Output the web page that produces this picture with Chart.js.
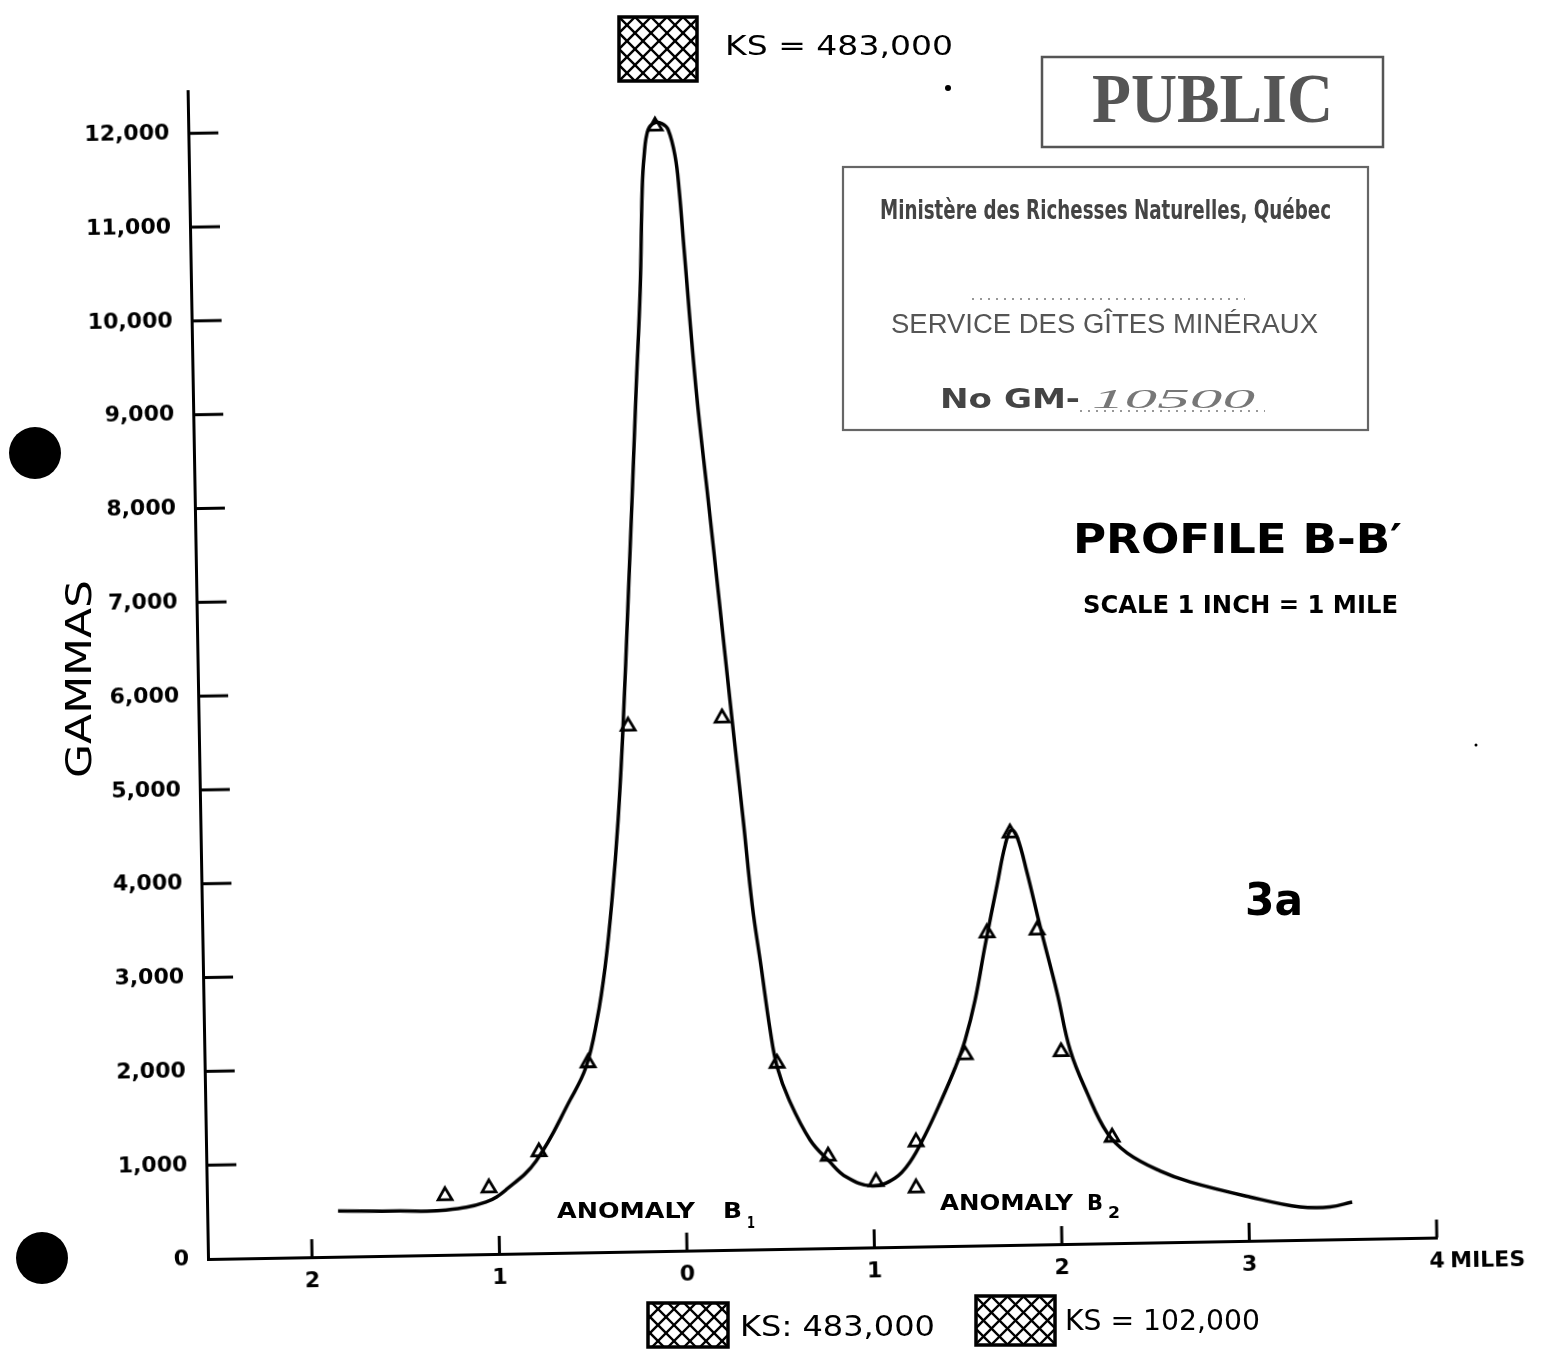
<!DOCTYPE html>
<html>
<head>
<meta charset="utf-8">
<title>Profile B-B'</title>
<script src="https://cdn.jsdelivr.net/npm/chart.js@4.4.1/dist/chart.umd.min.js"></script>
<style>
    html, body { margin: 0; padding: 0; background: #fff; }
    #wrap { position: relative; width: 1543px; height: 1367px; overflow: hidden; background: #fff; }
    /* the scanned sheet is drawn about one degree off square */
    #profileChart { position: absolute; left: 0; top: 0; transform: rotate(-1deg); transform-origin: 208px 1259px; }
    #overlay { position: absolute; left: 0; top: 0; pointer-events: none; }
</style>
</head>
<body>
<div id="wrap">
    <canvas id="profileChart" width="1543" height="1367"></canvas>
    <canvas id="overlay" width="1543" height="1367"></canvas>
</div>
<script>
// distance along profile (miles, 0 = centre of anomaly B1) and total field (gammas)
const curveMiles = [-1.857, -1.526, -1.281, -1.067, -0.954, -0.796, -0.609, -0.521, -0.458, -0.410,
    -0.367, -0.327, -0.292, -0.253, -0.223, -0.191, -0.160, -0.140, -0.127, -0.103, -0.065, -0.028,
    0.004, 0.039, 0.057, 0.078, 0.129, 0.183, 0.232, 0.290, 0.340, 0.380, 0.422, 0.464, 0.498, 0.559,
    0.667, 0.766, 0.856, 0.993, 1.117, 1.198, 1.281, 1.364, 1.447, 1.503, 1.560, 1.619, 1.688, 1.735,
    1.768, 1.799, 1.849, 1.914, 1.998, 2.062, 2.149, 2.252, 2.357, 2.531, 2.690, 3.008, 3.274, 3.434, 3.552];
const curveGammas = [488, 476, 478, 556, 691, 984, 1628, 1977, 2476, 3039,
    3752, 4604, 5594, 6948, 8013, 9185, 10250, 11316, 11667, 11954, 12028, 12016,
    11951, 11662, 11309, 10668, 9174, 7999, 6931, 5649, 4581, 3673, 3010, 2337, 1941, 1587,
    1157, 929, 756, 655, 736, 904, 1189, 1527, 1897, 2194, 2618, 3203, 3840, 4265,
    4424, 4348, 3963, 3385, 2678, 2068, 1606, 1176, 959, 761, 638, 467, 351, 346, 395];

// observed stations (triangles)
const stationMiles = [-1.285, -1.05, -0.78, -0.51, -0.265, -0.065, 0.237, 0.498, 0.762,
    1.015, 1.228, 1.232, 1.502, 1.63, 1.762, 1.897, 2.014, 2.278];
const stationGammas = [630, 705, 1080, 2020, 5600, 11990, 5670, 1980, 980,
    700, 625, 1115, 2035, 3330, 4390, 3350, 2050, 1130];

const xTickValues = [-2, -1, 0, 1, 2, 3, 4];
const yTickValues = [0, 1000, 2000, 3000, 4000, 5000, 6000, 7000, 8000, 9000, 10000, 11000, 12000];

const xMin = -2.555, xMax = 4;
const yMin = 0, yMax = 12450;

const labelFont = { family: "'DejaVu Sans', sans-serif", size: 22, weight: 'bold' };

// tick marks point inward on this drawing, so they are drawn here
const innerTicks = {
    id: 'innerTicks',
    afterDraw(chart) {
        const { ctx, chartArea, scales } = chart;
        ctx.save();
        ctx.strokeStyle = '#000';
        ctx.lineWidth = 3;
        yTickValues.filter(v => v > 0).forEach(v => {
            const py = scales.y.getPixelForValue(v);
            ctx.beginPath();
            ctx.moveTo(chartArea.left, py);
            ctx.lineTo(chartArea.left + 30, py);
            ctx.stroke();
        });
        xTickValues.forEach(v => {
            const px = scales.x.getPixelForValue(v);
            ctx.beginPath();
            ctx.moveTo(px, chartArea.bottom);
            ctx.lineTo(px, chartArea.bottom - 18);
            ctx.stroke();
        });
        ctx.font = "bold 22px 'DejaVu Sans', sans-serif";
        ctx.fillStyle = '#000';
        ctx.textAlign = 'left';
        ctx.textBaseline = 'middle';
        ctx.fillText('MILES', scales.x.getPixelForValue(4) + 13, chartArea.bottom + 24);
        ctx.restore();
    }
};

function renderProfileChart() {
    const ctx = document.getElementById('profileChart').getContext('2d');

    new Chart(ctx, {
        type: 'scatter',
        data: {
            datasets: [{
                label: 'Stations',
                data: stationMiles.map((m, i) => ({ x: m, y: stationGammas[i] })),
                pointStyle: 'triangle',
                pointRadius: 8,
                pointBorderWidth: 2.8,
                pointBorderColor: '#000',
                pointBackgroundColor: 'rgba(0,0,0,0)',
                showLine: false
            }, {
                label: 'Profile',
                data: curveMiles.map((m, i) => ({ x: m, y: curveGammas[i] })),
                showLine: true,
                borderColor: '#000',
                borderWidth: 3.5,
                pointRadius: 0,
                tension: 0.4,
                fill: false
            }]
        },
        options: {
            responsive: false,
            animation: false,
            devicePixelRatio: 1,
            layout: { padding: { left: 0, top: 91, right: 106, bottom: 0 } },
            plugins: {
                legend: { display: false },
                tooltip: { enabled: false }
            },
            scales: {
                x: {
                    type: 'linear',
                    min: xMin,
                    max: xMax,
                    afterBuildTicks: scale => { scale.ticks = xTickValues.map(v => ({ value: v })); },
                    afterFit: scale => { scale.height = 108; },
                    grid: { display: false, drawTicks: false },
                    border: { display: true, color: '#000', width: 3 },
                    ticks: {
                        autoSkip: false,
                        maxRotation: 0,
                        padding: 11,
                        color: '#000',
                        font: labelFont,
                        callback: value => String(Math.abs(value))
                    }
                },
                y: {
                    type: 'linear',
                    min: yMin,
                    max: yMax,
                    afterBuildTicks: scale => { scale.ticks = yTickValues.map(v => ({ value: v })); },
                    afterFit: scale => { scale.width = 208; },
                    grid: { display: false, drawTicks: false },
                    border: { display: true, color: '#000', width: 3 },
                    ticks: {
                        autoSkip: false,
                        padding: 19,
                        color: '#000',
                        font: labelFont,
                        callback: value => value.toLocaleString('en-US')
                    }
                }
            }
        },
        plugins: [innerTicks]
    });
}

// text squeezed or stretched to the width it takes on the sheet
function fitText(ctx, text, x1, x2, baseY, font, color) {
    ctx.save();
    ctx.font = font;
    ctx.fillStyle = color || '#000';
    ctx.textAlign = 'left';
    ctx.textBaseline = 'alphabetic';
    const w = ctx.measureText(text).width;
    ctx.translate(x1, baseY);
    ctx.scale((x2 - x1) / w, 1);
    ctx.fillText(text, 0, 0);
    ctx.restore();
}

function hatchBox(ctx, x, y, w, h) {
    ctx.save();
    ctx.beginPath();
    ctx.rect(x, y, w, h);
    ctx.clip();
    ctx.strokeStyle = '#000';
    ctx.lineWidth = 2.4;
    for (let k = -h; k < w + h; k += 16) {
        ctx.beginPath();
        ctx.moveTo(x + k, y);
        ctx.lineTo(x + k + h, y + h);
        ctx.stroke();
        ctx.beginPath();
        ctx.moveTo(x + k, y + h);
        ctx.lineTo(x + k + h, y);
        ctx.stroke();
    }
    ctx.restore();
    ctx.save();
    ctx.strokeStyle = '#000';
    ctx.lineWidth = 3.5;
    ctx.strokeRect(x, y, w, h);
    ctx.restore();
}

function dot(ctx, x, y, r) {
    ctx.beginPath();
    ctx.arc(x, y, r, 0, Math.PI * 2);
    ctx.fillStyle = '#000';
    ctx.fill();
}

function drawSheet() {
    const ctx = document.getElementById('overlay').getContext('2d');
    const hand = "'DejaVu Sans', sans-serif";

    // punched holes and specks
    dot(ctx, 35, 453, 26);
    dot(ctx, 42, 1258, 26);
    dot(ctx, 948, 88, 3);
    dot(ctx, 1476, 745, 1.5);

    // y axis title
    ctx.save();
    ctx.translate(91, 778);
    ctx.rotate(-Math.PI / 2);
    fitText(ctx, 'GAMMAS', 0, 198, 0, 'normal 35px ' + hand);
    ctx.restore();

    // susceptibility keys
    hatchBox(ctx, 619, 17, 78, 64);
    fitText(ctx, 'KS = 483,000', 725, 953, 55, 'normal 27px ' + hand);
    hatchBox(ctx, 648, 1303, 80, 44);
    fitText(ctx, 'KS: 483,000', 740, 935, 1336, 'normal 29px ' + hand);
    hatchBox(ctx, 976, 1296, 79, 49);
    fitText(ctx, 'KS = 102,000', 1065, 1260, 1330, 'normal 29px ' + hand);

    // titles
    fitText(ctx, 'PROFILE B-B\u2032', 1073, 1402, 553, 'bold 41px ' + hand);
    fitText(ctx, 'SCALE 1 INCH = 1 MILE', 1083, 1398, 613, 'bold 25px ' + hand);
    fitText(ctx, '3a', 1245, 1303, 915, 'bold 44px ' + hand);

    // anomaly names
    fitText(ctx, 'ANOMALY', 557, 695, 1218, 'bold 22px ' + hand);
    fitText(ctx, 'B', 723, 742, 1218, 'bold 22px ' + hand);
    fitText(ctx, '1', 747, 755, 1228, 'bold 15px ' + hand);
    fitText(ctx, 'ANOMALY', 940, 1073, 1210, 'bold 22px ' + hand);
    fitText(ctx, 'B', 1087, 1103, 1210, 'bold 22px ' + hand);
    fitText(ctx, '2', 1108, 1120, 1218, 'bold 15px ' + hand);

    // PUBLIC stamp
    ctx.save();
    ctx.strokeStyle = '#555';
    ctx.lineWidth = 2.5;
    ctx.strokeRect(1042, 57, 341, 90);
    ctx.restore();
    fitText(ctx, 'PUBLIC', 1092, 1333, 122, "bold 70px 'Liberation Serif', serif", '#555');

    // ministry stamp
    ctx.save();
    ctx.strokeStyle = '#666';
    ctx.lineWidth = 2.2;
    ctx.strokeRect(843, 167, 525, 263);
    ctx.restore();
    fitText(ctx, 'Ministère des Richesses Naturelles, Québec', 880, 1331, 219,
        "bold 27px 'Liberation Sans Narrow', 'DejaVu Sans Condensed', sans-serif", '#444');
    ctx.save();
    ctx.strokeStyle = '#777';
    ctx.lineWidth = 1.5;
    ctx.setLineDash([2, 6]);
    ctx.beginPath();
    ctx.moveTo(972, 299);
    ctx.lineTo(1245, 299);
    ctx.stroke();
    ctx.beginPath();
    ctx.moveTo(1080, 411);
    ctx.lineTo(1265, 411);
    ctx.stroke();
    ctx.restore();
    fitText(ctx, 'SERVICE DES GÎTES MINÉRAUX', 891, 1318, 333,
        "normal 27px 'Liberation Sans', sans-serif", '#555');
    fitText(ctx, 'No GM-', 940, 1080, 408, 'bold 26px ' + hand, '#444');
    fitText(ctx, '10500', 1092, 1255, 408, "italic 28px 'Liberation Serif', serif", '#777');
}

document.addEventListener('DOMContentLoaded', function () {
    renderProfileChart();
    drawSheet();
});
</script>
</body>
</html>
